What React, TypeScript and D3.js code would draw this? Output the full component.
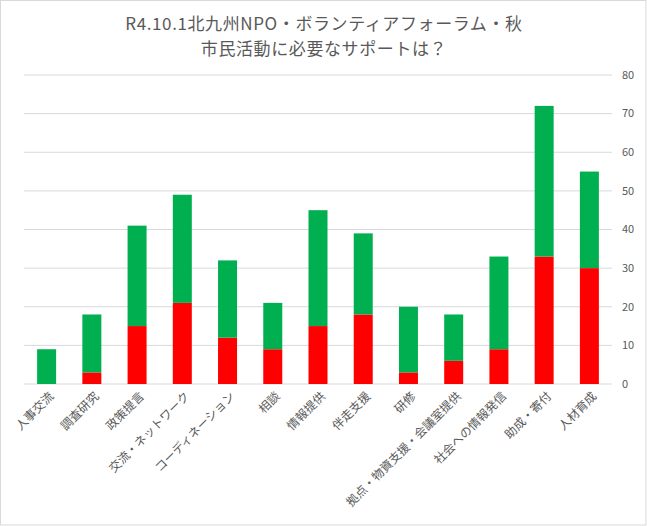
import React from "react";
import * as d3 from "d3";

const categories = [
  "人事交流",
  "調査研究",
  "政策提言",
  "交流・ネットワーク",
  "コーディネーション",
  "相談",
  "情報提供",
  "伴走支援",
  "研修",
  "拠点・物資支援・会議室提供",
  "社会への情報発信",
  "助成・寄付",
  "人材育成",
];
const redValues = [0, 3, 15, 21, 12, 9, 15, 18, 3, 6, 9, 33, 30];
const greenValues = [9, 15, 26, 28, 20, 12, 30, 21, 17, 12, 24, 39, 25];
const yTicks = [0, 10, 20, 30, 40, 50, 60, 70, 80];
const titleLines = ["R4.10.1北九州NPO・ボランティアフォーラム・秋", "市民活動に必要なサポートは？"];

const W = 647;
const H = 526;
const FONT = "'Noto Sans CJK JP', 'Noto Sans', sans-serif";
const TEXT = "#595959";
const GRID = "#d9d9d9";
const RED = "#ff0000";
const GREEN = "#00b050";

export default function App() {
  const x = d3.scaleBand<string>().domain(categories).range([24, 612]).paddingInner(0.58).paddingOuter(0.29);
  const y = d3.scaleLinear().domain([0, 80]).range([384, 75]);

  const rows = categories.map((c, i) => ({ cat: c, red: redValues[i], green: greenValues[i] }));
  const stack = d3.stack<any>().keys(["red", "green"]);
  const series = stack(rows);
  const colors: Record<string, string> = { red: RED, green: GREEN };

  return (
    <svg
      width={W}
      height={H}
      style={{ position: "absolute", left: 0, top: 0, background: "#fff" }}
      fontFamily={FONT}
    >
      <rect x={0.5} y={0.5} width={W - 1.5} height={H - 1.5} fill="#fff" stroke={GRID} />
      {titleLines.map((t, i) => (
        <text
          key={i}
          x={324}
          y={30 + i * 25}
          textAnchor="middle"
          fontSize={17}
          letterSpacing={0.6}
          fill={TEXT}
        >
          {t}
        </text>
      ))}
      {yTicks.map((t) => (
        <g key={t}>
          <line x1={24} x2={612} y1={y(t)} y2={y(t)} stroke={GRID} strokeWidth={1} />
          <text x={622} y={y(t)} dy="0.35em" fontSize={11} fill={TEXT}>
            {t}
          </text>
        </g>
      ))}
      {series.map((s) => (
        <g key={s.key} fill={colors[s.key]}>
          {s.map((d, i) => (
            <rect
              key={i}
              x={x(categories[i])}
              width={x.bandwidth()}
              y={y(d[1])}
              height={Math.max(0, y(d[0]) - y(d[1]))}
            />
          ))}
        </g>
      ))}
      {categories.map((c) => {
        const cx = (x(c) as number) + x.bandwidth() / 2;
        return (
          <text
            key={c}
            transform={`translate(${cx + 5},${394}) rotate(-45)`}
            textAnchor="end"
            dy="0.35em"
            fontSize={12}
            fill={TEXT}
          >
            {c}
          </text>
        );
      })}
    </svg>
  );
}
